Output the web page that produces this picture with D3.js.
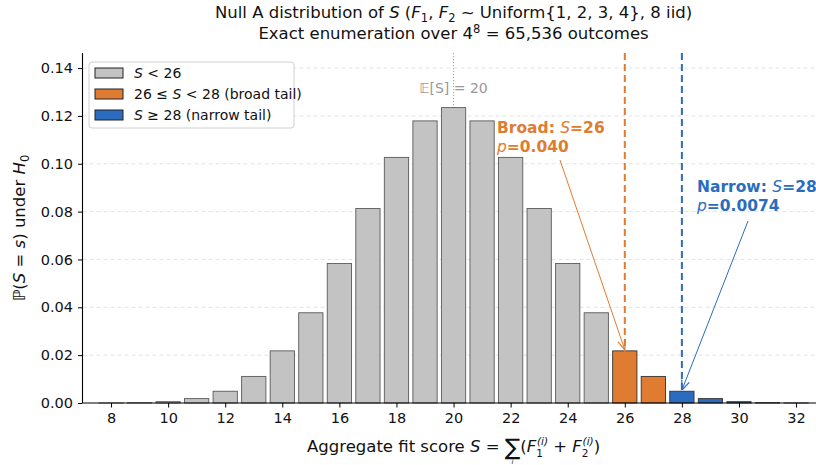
<!DOCTYPE html>
<html>
<head>
<meta charset="utf-8">
<script src="https://cdn.jsdelivr.net/npm/d3@7"></script>
<style>
  body { margin: 0; background: #fff; }
  svg { font-family: "DejaVu Sans", sans-serif; }
</style>
</head>
<body>
<svg id="chart" width="816" height="465"></svg>
<script>
// exact counts of S = 8..32 out of 4^8 outcomes
var scores = d3.range(8, 33);
var counts = [1, 8, 36, 120, 322, 728, 1428, 2472, 3823, 5328, 6728, 7728, 8092,
              7728, 6728, 5328, 3823, 2472, 1428, 728, 322, 120, 36, 8, 1];
var total = 65536;
var xTicks = [8, 10, 12, 14, 16, 18, 20, 22, 24, 26, 28, 30, 32];
var yTicks = [0, 0.02, 0.04, 0.06, 0.08, 0.10, 0.12, 0.14];
var broadCut = 26, narrowCut = 28, meanS = 20;
var pBroad = "0.040", pNarrow = "0.0074";

var colGray = "#c3c3c3", colOrange = "#e07b32", colBlue = "#2b6cbf";

var svg = d3.select("#chart");
var m = {left: 82.5, top: 53, bottom: 403};
var x = d3.scaleLinear().domain([7, 33]).range([m.left, 824.6]);
var y = d3.scaleLinear().domain([0, 0.1463]).range([m.bottom, m.top]);
var bw = x(0.85) - x(0);

var data = scores.map(function (s, i) { return {s: s, p: counts[i] / total}; });
function fillOf(s) { return s >= narrowCut ? colBlue : (s >= broadCut ? colOrange : colGray); }

// grid
svg.append("g").selectAll("line").data(yTicks.slice(1)).join("line")
    .attr("x1", m.left).attr("x2", 816)
    .attr("y1", d => y(d)).attr("y2", d => y(d))
    .attr("stroke", "#dcdcdc").attr("stroke-width", 0.8).attr("stroke-dasharray", "4,3");

// mean line (behind bars)
svg.append("line")
    .attr("x1", x(meanS)).attr("x2", x(meanS)).attr("y1", m.top).attr("y2", m.bottom)
    .attr("stroke", "#999").attr("stroke-width", 0.9).attr("stroke-dasharray", "1.2,1.8");

// bars
svg.append("g").selectAll("rect").data(data).join("rect")
    .attr("x", d => x(d.s) - bw / 2)
    .attr("width", bw)
    .attr("y", d => y(d.p))
    .attr("height", d => y(0) - y(d.p))
    .attr("fill", d => fillOf(d.s))
    .attr("stroke", d => d.s >= broadCut ? "#333" : "#5a5a5a")
    .attr("stroke-width", 0.9);

svg.append("text")
    .attr("x", x(meanS)).attr("y", 93)
    .attr("text-anchor", "middle").attr("font-size", 14).attr("fill", "#999")
    .text("𝔼[S] = 20");

// threshold lines
[[broadCut, colOrange], [narrowCut, colBlue]].forEach(function (t) {
    svg.append("line")
        .attr("x1", x(t[0])).attr("x2", x(t[0])).attr("y1", m.top).attr("y2", m.bottom)
        .attr("stroke", t[1]).attr("stroke-width", 2).attr("stroke-dasharray", "7,4");
});

// axes
var xAxis = svg.append("g").attr("transform", "translate(0," + m.bottom + ")")
    .call(d3.axisBottom(x).tickValues(xTicks).tickSize(4.5).tickPadding(5).tickFormat(d3.format("d")));
var yAxis = svg.append("g").attr("transform", "translate(" + m.left + ",0)")
    .call(d3.axisLeft(y).tickValues(yTicks).tickSize(4.5).tickPadding(5).tickFormat(d3.format(".2f")));
[xAxis, yAxis].forEach(function (a) {
    a.select(".domain").attr("stroke", "#000").attr("stroke-width", 1.1);
    a.selectAll(".tick line").attr("stroke", "#000").attr("stroke-width", 1);
    a.selectAll("text").attr("font-size", 14.5).attr("fill", "#111")
        .attr("font-family", "DejaVu Sans, sans-serif");
});
xAxis.select(".domain").attr("d", "M" + m.left + ",0H816");
yAxis.select(".domain").attr("d", "M0," + m.bottom + "V" + m.top);

// arrow markers
var defs = svg.append("defs");
[["arrO", colOrange], ["arrB", colBlue]].forEach(function (a) {
    defs.append("marker").attr("id", a[0])
        .attr("viewBox", "0 0 10 10").attr("refX", 10).attr("refY", 5)
        .attr("markerWidth", 10).attr("markerHeight", 10).attr("markerUnits", "userSpaceOnUse")
        .attr("orient", "auto")
        .append("path").attr("d", "M0,1 L10,5 L0,9").attr("fill", "none")
        .attr("stroke", a[1]).attr("stroke-width", 1.2);
});

function annot(label, sVal, p, col, tx, ty, ax, ay, tipY, mk) {
    var t = svg.append("text").attr("x", tx).attr("y", ty)
        .attr("font-size", 15.5).attr("font-weight", "bold").attr("fill", col);
    t.append("tspan").text(label + ": ");
    t.append("tspan").attr("font-style", "italic").attr("font-weight", "normal").text("S");
    t.append("tspan").text("=" + sVal);
    var t2 = svg.append("text").attr("x", tx).attr("y", ty + 19)
        .attr("font-size", 15.5).attr("font-weight", "bold").attr("fill", col);
    t2.append("tspan").attr("font-style", "italic").attr("font-weight", "normal").text("p");
    t2.append("tspan").text("=" + p);
    svg.append("line").attr("x1", ax).attr("y1", ay).attr("x2", x(sVal)).attr("y2", tipY)
        .attr("stroke", col).attr("stroke-width", 1).attr("marker-end", "url(#" + mk + ")");
}
annot("Broad", broadCut, pBroad, colOrange, 497, 133, 560, 160, y(counts[broadCut - 8] / total) - 1, "arrO");
annot("Narrow", narrowCut, pNarrow, colBlue, 697, 192, 748, 221, y(counts[narrowCut - 8] / total) - 1, "arrB");

// legend
var lg = svg.append("g").attr("transform", "translate(89,62)");
lg.append("rect").attr("width", 205).attr("height", 66).attr("rx", 3)
    .attr("fill", "#fff").attr("fill-opacity", 0.85).attr("stroke", "#d0d0d0");
var legItems = [
    {c: colGray, parts: [["S", 1], [" < 26", 0]]},
    {c: colOrange, parts: [["26 ≤ ", 0], ["S", 1], [" < 28 (broad tail)", 0]]},
    {c: colBlue, parts: [["S", 1], [" ≥ 28 (narrow tail)", 0]]}
];
legItems.forEach(function (it, i) {
    var yy = 11 + i * 21;
    lg.append("rect").attr("x", 6).attr("y", yy - 5).attr("width", 28).attr("height", 10)
        .attr("fill", it.c).attr("stroke", "#222").attr("stroke-width", 1);
    var t = lg.append("text").attr("x", 45).attr("y", yy + 5).attr("font-size", 14).attr("fill", "#111");
    it.parts.forEach(function (p) {
        t.append("tspan").attr("font-style", p[1] ? "italic" : "normal").text(p[0]);
    });
});

// title
var cx = (m.left + 824.6) / 2;
var fs = 16.5;
var t1 = svg.append("text").attr("x", cx).attr("y", 18).attr("text-anchor", "middle")
    .attr("font-size", fs).attr("fill", "#111");
t1.append("tspan").text("Null A distribution of ");
t1.append("tspan").attr("font-style", "italic").text("S");
t1.append("tspan").text(" (");
t1.append("tspan").attr("font-style", "italic").text("F");
t1.append("tspan").attr("font-size", 11.5).attr("dy", 4).text("1");
t1.append("tspan").attr("dy", -4).text(", ");
t1.append("tspan").attr("font-style", "italic").text("F");
t1.append("tspan").attr("font-size", 11.5).attr("dy", 4).text("2");
t1.append("tspan").attr("dy", -4).text(" ~ Uniform{1, 2, 3, 4}, 8 iid)");
var t2 = svg.append("text").attr("x", cx).attr("y", 39).attr("text-anchor", "middle")
    .attr("font-size", fs).attr("fill", "#111");
t2.append("tspan").text("Exact enumeration over 4");
t2.append("tspan").attr("font-size", 11.5).attr("dy", -6).text("8");
t2.append("tspan").attr("dy", 6).text(" = 65,536 outcomes");

// x label
var xl = svg.append("text").attr("x", cx).attr("y", 452).attr("text-anchor", "middle")
    .attr("font-size", fs).attr("fill", "#111");
xl.append("tspan").text("Aggregate fit score ");
xl.append("tspan").attr("font-style", "italic").text("S");
xl.append("tspan").text(" = ");
xl.append("tspan").attr("font-size", 23).attr("dy", 3).text("∑");
xl.append("tspan").attr("dy", -3).text("(");
xl.append("tspan").attr("font-style", "italic").text("F");
xl.append("tspan").attr("font-size", 10.5).attr("dy", 5).text("1");
xl.append("tspan").attr("font-size", 10.5).attr("font-style", "italic").attr("dx", -6).attr("dy", -12).text("(i)");
xl.append("tspan").attr("dy", 7).text(" + ");
xl.append("tspan").attr("font-style", "italic").text("F");
xl.append("tspan").attr("font-size", 10.5).attr("dy", 5).text("2");
xl.append("tspan").attr("font-size", 10.5).attr("font-style", "italic").attr("dx", -6).attr("dy", -12).text("(i)");
xl.append("tspan").attr("dy", 7).text(")");
// summation index below the sigma
(function () {
    var n = xl.node();
    var pos = n.textContent.indexOf("∑");
    var st = n.getStartPositionOfChar(pos), en = n.getEndPositionOfChar(pos);
    svg.append("text").attr("font-size", 7).attr("font-style", "italic")
        .attr("fill", "#111").attr("text-anchor", "middle")
        .attr("x", (st.x + en.x) / 2).attr("y", 463.5).text("i");
})();

// y label
var yl = svg.append("text").attr("transform", "translate(25," + ((m.top + m.bottom) / 2) + ") rotate(-90)")
    .attr("text-anchor", "middle").attr("font-size", fs).attr("fill", "#111");
yl.append("tspan").text("ℙ(");
yl.append("tspan").attr("font-style", "italic").text("S");
yl.append("tspan").text(" = ");
yl.append("tspan").attr("font-style", "italic").text("s");
yl.append("tspan").text(") under ");
yl.append("tspan").attr("font-style", "italic").text("H");
yl.append("tspan").attr("font-size", 11.5).attr("dy", 4).text("0");
</script>
</body>
</html>
